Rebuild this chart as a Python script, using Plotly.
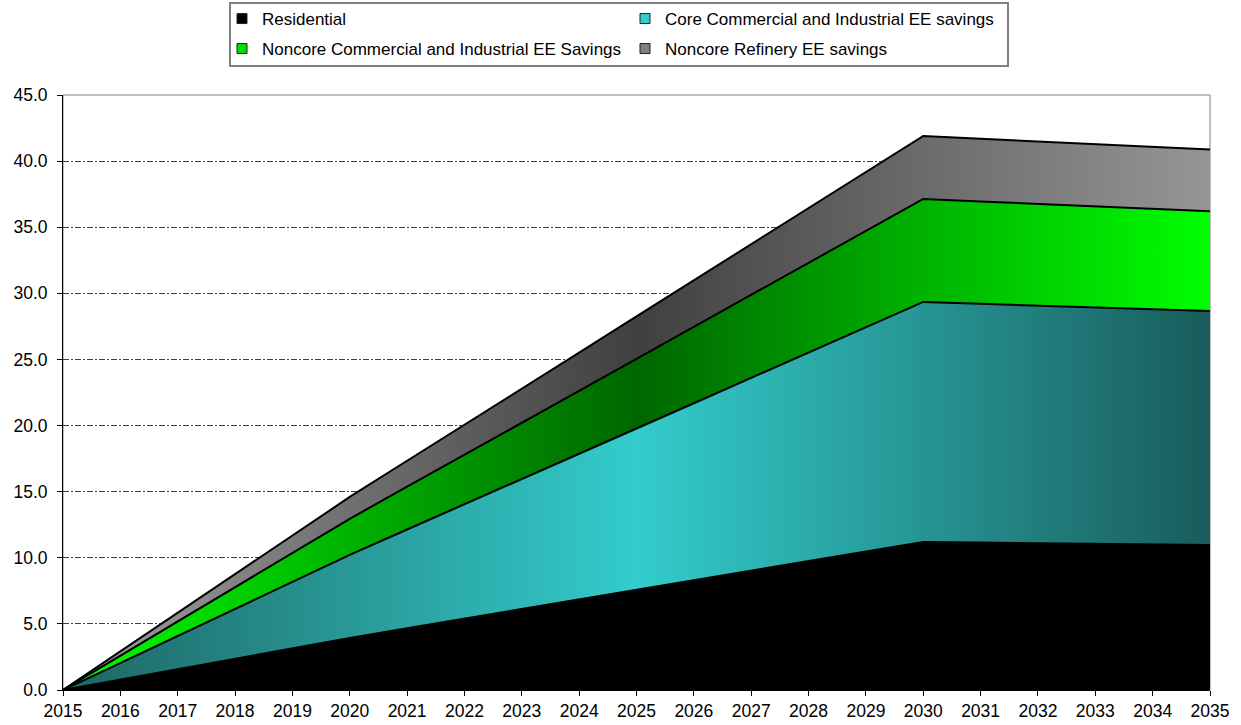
import plotly.graph_objects as go

years = list(range(2015, 2036))
residential = [0.00, 0.79, 1.58, 2.36, 3.15, 3.94, 4.67, 5.39, 6.12, 6.84, 7.57,
               8.29, 9.02, 9.75, 10.47, 11.20, 11.15, 11.10, 11.06, 11.01, 10.97]
core_ci = [0.00, 1.26, 2.51, 3.77, 5.02, 6.28, 7.47, 8.65, 9.84, 11.03, 12.22,
           13.40, 14.59, 15.78, 16.96, 18.15, 18.06, 17.97, 17.88, 17.78, 17.69]
noncore_ci = [0.00, 0.55, 1.09, 1.64, 2.18, 2.73, 3.24, 3.74, 4.25, 4.75, 5.26,
              5.77, 6.27, 6.78, 7.28, 7.79, 7.74, 7.69, 7.64, 7.59, 7.54]
refinery = [0.00, 0.33, 0.66, 0.99, 1.32, 1.65, 1.96, 2.27, 2.58, 2.89, 3.21,
            3.52, 3.83, 4.14, 4.45, 4.76, 4.74, 4.72, 4.71, 4.69, 4.67]

names = ["Residential", "Core Commercial and Industrial EE savings",
         "Noncore Commercial and Industrial EE Savings", "Noncore Refinery EE savings"]
legend_colors = ["#000000", "#33cccc", "#00dd00", "#808080"]
legend_ids = ["legend", "legend", "legend2", "legend2"]

FONT = "Liberation Sans, Arial, sans-serif"

fig = go.Figure()

fig.add_trace(go.Scatter(
    x=years, y=residential, name=names[0], stackgroup="s", mode="lines",
    line=dict(color="black", width=2), fillcolor="black", showlegend=False))

fig.add_trace(go.Scatter(
    x=years, y=core_ci, name=names[1], stackgroup="s", mode="lines",
    line=dict(color="black", width=2), fillcolor="#33cccc", showlegend=False,
    fillgradient=dict(type="horizontal", start=2015, stop=2035,
                      colorscale=[[0, "#1e6563"], [0.5, "#33cccc"], [1, "#1a5c5c"]])))

fig.add_trace(go.Scatter(
    x=years, y=noncore_ci, name=names[2], stackgroup="s", mode="lines",
    line=dict(color="black", width=2), fillcolor="#00cc00", showlegend=False,
    fillgradient=dict(type="horizontal", start=2015, stop=2035,
                      colorscale=[[0, "#00ff00"], [0.5, "#006600"], [1, "#00ff00"]])))

fig.add_trace(go.Scatter(
    x=years, y=refinery, name=names[3], stackgroup="s", mode="lines",
    line=dict(color="black", width=2), fillcolor="#808080", showlegend=False,
    fillgradient=dict(type="horizontal", start=2015, stop=2035,
                      colorscale=[[0, "#a0a0a0"], [0.5, "#404040"], [1, "#969696"]])))

# legend-only entries with small square swatches
for nm, col, lg in zip(names, legend_colors, legend_ids):
    fig.add_trace(go.Scatter(
        x=[None], y=[None], name=nm, mode="markers", legend=lg,
        marker=dict(symbol="square", size=10, color=col,
                    line=dict(color="#222222", width=1))))

# plot-area border (top/right grey)
fig.add_shape(type="rect", xref="paper", yref="paper", x0=0, x1=1, y0=0, y1=1,
              line=dict(color="#808080", width=1), layer="below")
# legend box border
fig.add_shape(type="rect", xref="paper", yref="paper",
              x0=(230 - 63) / 1147, x1=(1008 - 63) / 1147,
              y0=(690 - 66) / 595, y1=(690 - 3) / 595,
              line=dict(color="#808080", width=2), fillcolor="rgba(0,0,0,0)")

legend_common = dict(orientation="h", xanchor="left", yanchor="middle",
                     bgcolor="rgba(0,0,0,0)", borderwidth=0,
                     font=dict(family=FONT, size=17, color="black"),
                     entrywidth=358, entrywidthmode="pixels", traceorder="normal",
                     itemwidth=30)

fig.update_layout(
    width=1241, height=725,
    margin=dict(l=63, r=31, t=95, b=35, autoexpand=False),
    paper_bgcolor="white", plot_bgcolor="white",
    font=dict(family=FONT, size=17.5, color="black"),
    showlegend=True,
    legend=dict(x=(222 - 63) / 1147, y=(690 - 19) / 595, **legend_common),
    legend2=dict(x=(222 - 63) / 1147, y=(690 - 49) / 595, **legend_common),
    xaxis=dict(range=[2015, 2035], dtick=1, tick0=2015, showgrid=False,
               showline=True, linecolor="black", linewidth=1,
               ticks="outside", ticklen=5, tickcolor="black",
               tickfont=dict(family=FONT, size=17.5), zeroline=False, automargin=False),
    yaxis=dict(range=[0, 45], dtick=5, tick0=0, tickformat=".1f",
               showgrid=True, gridcolor="#404040", gridwidth=1,
               griddash="6px,2px,2px,2px",
               showline=True, linecolor="black", linewidth=1,
               ticks="outside", ticklen=5, tickcolor="black", ticklabelstandoff=6,
               tickfont=dict(family=FONT, size=17.5), zeroline=False, automargin=False),
)

fig.write_html("out.html")
